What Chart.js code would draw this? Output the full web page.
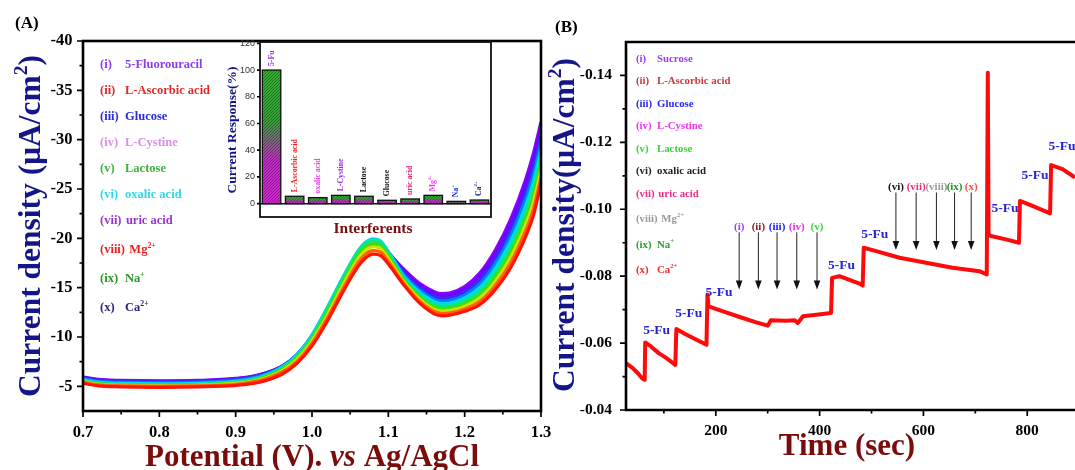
<!DOCTYPE html>
<html>
<head>
<meta charset="utf-8">
<script src="https://cdn.jsdelivr.net/npm/chart.js@4.4.1/dist/chart.umd.min.js"></script>
<style>
  html, body { margin: 0; padding: 0; background: #fff; }
  #wrap { position: relative; width: 1075px; height: 470px; overflow: hidden; }
  #wrap canvas { position: absolute; left: 0; top: 0; }
</style>
</head>
<body>
<div id="wrap">
  <canvas id="dpv" width="1075" height="470"></canvas>
  <canvas id="inset" width="1075" height="470"></canvas>
  <canvas id="amp" width="1075" height="470"></canvas>
</div>
<script>
// ---- (A) DPV curves after each interferent addition ----
var potentials = [0.70, 0.72, 0.75, 0.80, 0.85, 0.90, 0.93, 0.96, 0.98, 1.00, 1.02, 1.04, 1.06, 1.07, 1.08, 1.09, 1.10, 1.12, 1.14, 1.16, 1.17, 1.18, 1.20, 1.22, 1.24, 1.26, 1.28, 1.29, 1.30];
var dpvFu       = [-5.95, -5.7, -5.6, -5.55, -5.6, -5.8, -6.15, -7.0, -8.1, -9.9, -12.5, -15.4, -18.0, -18.9, -19.3, -19.2, -18.5, -16.9, -15.5, -14.6, -14.4, -14.45, -15.1, -16.5, -18.8, -21.9, -26.0, -28.6, -31.8];
var dpvAscorbic = [-5.9, -5.65, -5.55, -5.5, -5.55, -5.75, -6.15, -7.0, -8.15, -10.0, -12.6, -15.5, -18.1, -19.0, -19.45, -19.3, -18.55, -16.74, -15.3, -14.38, -14.18, -14.23, -14.85, -16.18, -18.4, -21.41, -25.42, -27.97, -31.18];
var dpvGlucose  = [-5.85, -5.6, -5.5, -5.45, -5.5, -5.7, -6.1, -7.0, -8.2, -10.1, -12.8, -15.8, -18.3, -19.2, -19.6, -19.45, -18.6, -16.55, -15.06, -14.11, -13.91, -13.96, -14.55, -15.8, -17.92, -20.82, -24.72, -27.21, -30.44];
var dpvCystine  = [-5.75, -5.5, -5.4, -5.35, -5.4, -5.6, -6.0, -6.95, -8.2, -10.2, -12.9, -15.9, -18.5, -19.4, -19.8, -19.6, -18.65, -16.36, -14.82, -13.84, -13.64, -13.69, -14.25, -15.41, -17.44, -20.23, -24.03, -26.46, -29.69];
var dpvLactose  = [-5.65, -5.4, -5.3, -5.25, -5.3, -5.5, -5.9, -6.9, -8.15, -10.2, -13.0, -16.0, -18.7, -19.6, -19.95, -19.7, -18.65, -16.16, -14.58, -13.57, -13.37, -13.42, -13.95, -15.03, -16.96, -19.65, -23.33, -25.7, -28.95];
var dpvOxalic   = [-5.55, -5.3, -5.2, -5.15, -5.2, -5.4, -5.8, -6.8, -8.0, -10.0, -12.8, -15.8, -18.6, -19.5, -19.8, -19.55, -18.5, -15.99, -14.36, -13.32, -13.12, -13.17, -13.68, -14.68, -16.52, -19.11, -22.69, -25.01, -28.27];
var dpvUric     = [-5.5, -5.25, -5.15, -5.1, -5.15, -5.35, -5.75, -6.7, -7.85, -9.8, -12.5, -15.5, -18.3, -19.15, -19.5, -19.25, -18.25, -15.81, -14.14, -13.07, -12.87, -12.92, -13.4, -14.32, -16.08, -18.57, -22.06, -24.32, -27.58];
var dpvMg       = [-5.45, -5.2, -5.1, -5.05, -5.1, -5.3, -5.65, -6.55, -7.7, -9.6, -12.2, -15.2, -17.9, -18.8, -19.15, -18.95, -17.95, -15.64, -13.92, -12.82, -12.62, -12.67, -13.1, -13.97, -15.64, -18.03, -21.42, -23.62, -26.9];
var dpvNa       = [-5.4, -5.15, -5.05, -5.0, -5.05, -5.2, -5.55, -6.4, -7.5, -9.35, -11.9, -14.8, -17.5, -18.4, -18.75, -18.6, -17.65, -15.46, -13.7, -12.58, -12.38, -12.43, -12.85, -13.62, -15.2, -17.49, -20.78, -22.93, -26.22];
var dpvCa       = [-5.3, -5.05, -4.95, -4.9, -4.95, -5.1, -5.4, -6.2, -7.3, -9.1, -11.6, -14.5, -17.1, -18.0, -18.4, -18.25, -17.4, -15.3, -13.5, -12.35, -12.15, -12.2, -12.6, -13.3, -14.8, -17.0, -20.2, -22.3, -25.6];
var dpvSeries = [dpvFu, dpvAscorbic, dpvGlucose, dpvCystine, dpvLactose, dpvOxalic, dpvUric, dpvMg, dpvNa, dpvCa];
var dpvColors = ['#8800ff', '#7000ff', '#3c28ff', '#0080ff', '#00d8f0', '#00e890', '#40e010', '#d0e000', '#ff6000', '#ff1400'];

var legendRoman = ['(i)', '(ii)', '(iii)', '(iv)', '(v)', '(vi)', '(vii)', '(viii)', '(ix)', '(x)'];
var legendNamesA = ['5-Fluorouracil', 'L-Ascorbic acid', 'Glucose', 'L-Cystine', 'Lactose', 'oxalic acid', 'uric acid', 'Mg^{2+}', 'Na^{+}', 'Ca^{2+}'];
var legendColorsA = ['#8c3cf0', '#e02a2a', '#2b2bdc', '#d890e8', '#3cb43c', '#2ed8e8', '#9b35d0', '#f02020', '#2a962a', '#26267e'];

// ---- inset: selectivity bars ----
var interferents = ['5-Fu', 'L-Ascorbic acid', 'oxalic acid', 'L-Cystine', 'Lactose', 'Glucose', 'uric acid', 'Mg^{2+}', 'Na^{+}', 'Ca^{2+}'];
var responsePct = [100, 5.5, 4.5, 6.2, 5.5, 2.5, 3.5, 6.2, 1.7, 2.7];
var barLabelColors = ['#9a30ee', '#ee2020', '#ee40ee', '#a030e0', '#111111', '#111111', '#e4207a', '#ee40ee', '#2030ee', '#222288'];

// ---- (B) amperometric i-t response ----
var ampTime = [27, 40, 50, 58, 63, 64, 75, 90, 105, 122, 124, 140, 160, 182, 184, 186, 214, 246, 278, 300, 306, 336, 352, 358, 368, 394, 422, 424, 438, 477, 483, 485, 509, 554, 605, 656, 708, 722, 724, 725.5, 730, 759, 784, 786, 810, 844, 846, 868, 892];
var ampCurrent = [-0.054, -0.0525, -0.051, -0.0495, -0.049, -0.0602, -0.059, -0.057, -0.0555, -0.0535, -0.0642, -0.0628, -0.0612, -0.0595, -0.0745, -0.071, -0.0695, -0.0678, -0.0662, -0.0652, -0.0668, -0.0667, -0.0668, -0.066, -0.068, -0.0685, -0.069, -0.0795, -0.080, -0.0778, -0.0772, -0.0885, -0.0875, -0.0855, -0.084, -0.0825, -0.0815, -0.0805, -0.1408, -0.0925, -0.092, -0.091, -0.090, -0.1025, -0.101, -0.0988, -0.1132, -0.112, -0.1095];

// 5-Fu addition labels (time, current where the text sits)
var fuLabelTime = [86, 148, 206, 442, 506, 757, 815, 867];
var fuLabelLevel = [-0.0637, -0.0689, -0.075, -0.0832, -0.0925, -0.1002, -0.110, -0.1188];

// interferent injection arrows
var arrowTime = [245, 282, 318, 356, 395, 547, 586, 625, 660, 692];
var arrowTop = [-0.0931, -0.0931, -0.0931, -0.0931, -0.0931, -0.105, -0.105, -0.105, -0.105, -0.105];
var arrowTip = [-0.076, -0.076, -0.076, -0.076, -0.076, -0.0878, -0.0878, -0.0878, -0.0878, -0.0878];
var arrowLabelLevel = [-0.0946, -0.0946, -0.0946, -0.0946, -0.0946, -0.1067, -0.1067, -0.1067, -0.1067, -0.1067];
var arrowColors = ['#a040f0', '#8b1e1e', '#2222ee', '#ee2aee', '#30e030', '#111111', '#ee2a8a', '#999999', '#229a22', '#f05050'];

var legendNamesB = ['Sucrose', 'L-Ascorbic acid', 'Glucose', 'L-Cystine', 'Lactose', 'oxalic acid', 'uric acid', 'Mg^{2+}', 'Na^{+}', 'Ca^{2+}'];
var legendColorsB = ['#9a3cf0', '#d03838', '#2828e8', '#ee36ee', '#36d836', '#222222', '#ee2a8a', '#9a9a9a', '#28a028', '#f22a2a'];

var SERIF = "'Liberation Serif', 'Times New Roman', serif";
var NAVY = '#15158a';
var MAROON = '#7a0c0c';

// tiny markup: ^{..} superscript, *..* italic
function richParts(s) {
  var parts = [], re = /\^\{([^}]*)\}|\*([^*]*)\*|([^^*]+)/g, m;
  while ((m = re.exec(s))) {
    if (m[1] !== undefined) parts.push({ t: m[1], sup: true });
    else if (m[2] !== undefined) parts.push({ t: m[2], it: true });
    else parts.push({ t: m[3] });
  }
  return parts;
}
function partFont(p, size) {
  return (p.it ? 'italic ' : '') + 'bold ' + (p.sup ? size * 0.62 : size) + 'px ' + SERIF;
}
function richWidth(ctx, s, size) {
  var w = 0;
  richParts(s).forEach(function (p) { ctx.font = partFont(p, size); w += ctx.measureText(p.t).width; });
  return w;
}
function drawRich(ctx, s, x, y, size, align) {
  var w = richWidth(ctx, s, size);
  var cx = align === 'center' ? x - w / 2 : (align === 'right' ? x - w : x);
  ctx.textAlign = 'left';
  richParts(s).forEach(function (p) {
    ctx.font = partFont(p, size);
    ctx.fillText(p.t, cx, p.sup ? y - size * 0.42 : y);
    cx += ctx.measureText(p.t).width;
  });
}
function drawRotated(ctx, s, x, y, size, align) {
  ctx.save();
  ctx.translate(x, y);
  ctx.rotate(-Math.PI / 2);
  drawRich(ctx, s, 0, 0, size, align);
  ctx.restore();
}

// "(i)  name" rows; the name column moves right when the numeral is wide
function drawLegendRows(ctx, names, colors, x0, nameX, y0, step, size) {
  var y = y0;
  legendRoman.forEach(function (r, i) {
    if (i > 0) y += step + (names[i].indexOf('^') >= 0 ? 3 : 0);
    ctx.fillStyle = colors[i];
    drawRich(ctx, r, x0, y, size, 'left');
    var nx = Math.max(nameX, x0 + richWidth(ctx, r, size) + size * 0.35);
    drawRich(ctx, names[i], nx, y, size, 'left');
  });
}

function tickSet(scale) {
  var major = scale.ticks.map(function (t) { return t.value; });
  var half = (major[1] - major[0]) / 2, minor = [];
  major.forEach(function (m) {
    [m - half, m + half].forEach(function (v) {
      var eps = Math.abs(half) * 1e-3;
      if (v > scale.min + eps && v < scale.max - eps &&
          minor.every(function (u) { return Math.abs(u - v) > eps; })) minor.push(v);
    });
  });
  return { major: major, minor: minor };
}

// outward tick marks on the bottom and left axes
function drawOutTicks(chart, majorLen, minorLen, doX) {
  var ctx = chart.ctx, a = chart.chartArea, sx = chart.scales.x, sy = chart.scales.y;
  ctx.save();
  ctx.strokeStyle = '#000';
  ctx.lineWidth = 1.7;
  ctx.beginPath();
  if (doX) {
    var tx = tickSet(sx);
    tx.major.forEach(function (v) { var p = sx.getPixelForValue(v); ctx.moveTo(p, a.bottom); ctx.lineTo(p, a.bottom + majorLen); });
    tx.minor.forEach(function (v) { var p = sx.getPixelForValue(v); ctx.moveTo(p, a.bottom); ctx.lineTo(p, a.bottom + minorLen); });
  }
  var ty = tickSet(sy);
  ty.major.forEach(function (v) { var p = sy.getPixelForValue(v); ctx.moveTo(a.left, p); ctx.lineTo(a.left - majorLen, p); });
  if (minorLen) ty.minor.forEach(function (v) { var p = sy.getPixelForValue(v); ctx.moveTo(a.left, p); ctx.lineTo(a.left - minorLen, p); });
  ctx.stroke();
  ctx.restore();
}

function tickFont(size) {
  return { family: SERIF, size: size, weight: 'bold' };
}

var dpvDecor = {
  id: 'dpvDecor',
  afterDraw: function (chart) {
    var ctx = chart.ctx, a = chart.chartArea;
    drawOutTicks(chart, 6, 3.5, true);
    ctx.save();
    ctx.strokeStyle = '#000';
    ctx.lineWidth = 2.6;
    ctx.strokeRect(a.left, a.top, a.right - a.left, a.bottom - a.top);
    ctx.textBaseline = 'alphabetic';

    drawLegendRows(ctx, legendNamesA, legendColorsA, 100, 125, 68, 26, 12.5);

    ctx.fillStyle = NAVY;
    drawRotated(ctx, 'Current density (\u03bcA/cm^{2})', 40, 226, 31.5, 'center');
    ctx.fillStyle = MAROON;
    drawRich(ctx, 'Potential (V). *vs* Ag/AgCl', 312, 466, 31, 'center');
    ctx.fillStyle = '#000';
    drawRich(ctx, '(A)', 15, 28, 17, 'left');
    ctx.restore();
  }
};

var dpvChart = new Chart(document.getElementById('dpv'), {
  type: 'line',
  data: {
    datasets: dpvSeries.map(function (vals, i) {
      return {
        data: potentials.map(function (p, k) { return { x: p, y: vals[k] }; }),
        borderColor: dpvColors[i],
        borderWidth: 3.2,
        pointRadius: 0,
        cubicInterpolationMode: 'monotone',
        fill: false,
        order: dpvSeries.length - i   // red drawn on top, violet underneath
      };
    })
  },
  options: {
    responsive: false,
    animation: false,
    events: [],
    layout: { padding: { left: 0, top: 41, right: 1075 - 541, bottom: 0 } },
    plugins: { legend: { display: false }, tooltip: { enabled: false } },
    scales: {
      x: {
        type: 'linear', min: 0.7, max: 1.3,
        afterFit: function (s) { s.height = 59; },
        grid: { display: false, drawTicks: false },
        border: { display: false },
        ticks: { stepSize: 0.1, padding: 12, color: '#000', font: tickFont(16.5),
          callback: function (v) { return v.toFixed(1); } }
      },
      y: {
        type: 'linear', reverse: true, min: -40, max: -2.5,
        afterFit: function (s) { s.width = 83; },
        grid: { display: false, drawTicks: false },
        border: { display: false },
        ticks: { stepSize: 5, includeBounds: false, padding: 10.5, color: '#000', font: tickFont(16.5) }
      }
    }
  },
  plugins: [dpvDecor]
});

// ---- inset bar chart ----
var hatchTile = document.createElement('canvas');
hatchTile.width = 3;
hatchTile.height = 3;
(function () {
  var g = hatchTile.getContext('2d');
  g.strokeStyle = 'rgba(25,25,25,0.5)';
  g.lineWidth = 0.8;
  g.beginPath();
  g.moveTo(0, 3); g.lineTo(3, 0);
  g.stroke();
})();

var insetDecor = {
  id: 'insetDecor',
  afterDatasetsDraw: function (chart) {
    var ctx = chart.ctx, meta = chart.getDatasetMeta(0);
    var hatch = ctx.createPattern(hatchTile, 'repeat');
    ctx.save();
    meta.data.forEach(function (bar, i) {
      var w = bar.width, x0 = bar.x - w / 2, top = Math.min(bar.y, bar.base), h = Math.abs(bar.base - bar.y);
      ctx.fillStyle = hatch;
      ctx.fillRect(x0, top, w, h);
      ctx.strokeStyle = '#111';
      ctx.lineWidth = 1.3;
      ctx.strokeRect(x0, top, w, h);
      ctx.fillStyle = barLabelColors[i];
      ctx.textBaseline = 'middle';
      drawRotated(ctx, interferents[i], bar.x, top - 4, 7.8, 'left');
    });
    ctx.restore();
  },
  afterDraw: function (chart) {
    var ctx = chart.ctx, a = chart.chartArea, sy = chart.scales.y;
    drawOutTicks(chart, 3, 0, false);
    ctx.save();
    ctx.strokeStyle = '#111';
    ctx.lineWidth = 1.5;
    var y0 = sy.getPixelForValue(0);
    ctx.beginPath();
    ctx.moveTo(a.left, y0); ctx.lineTo(a.right, y0);
    ctx.stroke();
    ctx.lineWidth = 1.8;
    ctx.strokeRect(a.left, a.top, a.right - a.left, a.bottom - a.top);
    ctx.textBaseline = 'alphabetic';
    ctx.fillStyle = NAVY;
    drawRotated(ctx, 'Current Response(%)', 236, 130, 13.5, 'center');
    ctx.fillStyle = MAROON;
    drawRich(ctx, 'Interferents', 373, 233, 15.5, 'center');
    ctx.restore();
  }
};

function barGradient(c) {
  var chart = c.chart, sy = chart.scales.y;
  if (!chart.chartArea || !sy) return '#33a833';
  var top = sy.getPixelForValue(c.raw), base = sy.getPixelForValue(0);
  if (!isFinite(top) || Math.abs(base - top) < 0.5) return '#33a833';
  var g = chart.ctx.createLinearGradient(0, top, 0, base);
  g.addColorStop(0, '#2fb02f');
  g.addColorStop(0.38, '#33a333');
  g.addColorStop(0.68, '#c02ac6');
  g.addColorStop(1, '#d621d6');
  return g;
}

var insetChart = new Chart(document.getElementById('inset'), {
  type: 'bar',
  data: {
    labels: interferents,
    datasets: [{
      data: responsePct,
      backgroundColor: barGradient,
      borderWidth: 0,
      barPercentage: 0.8,
      categoryPercentage: 1.0
    }]
  },
  options: {
    responsive: false,
    animation: false,
    events: [],
    layout: { padding: { left: 230, top: 42, right: 1075 - 491, bottom: 470 - 217 } },
    plugins: { legend: { display: false }, tooltip: { enabled: false } },
    scales: {
      x: { display: false },
      y: {
        type: 'linear', min: -10, max: 121,
        afterFit: function (s) { s.width = 30; },
        grid: { display: false, drawTicks: false },
        border: { display: false },
        ticks: { stepSize: 20, includeBounds: false, padding: 5, color: '#333',
          font: { family: "'Liberation Sans', Arial, sans-serif", size: 9 } }
      }
    }
  },
  plugins: [insetDecor]
});

// ---- (B) amperometry ----
var ampDecor = {
  id: 'ampDecor',
  afterDraw: function (chart) {
    var ctx = chart.ctx, a = chart.chartArea, sx = chart.scales.x, sy = chart.scales.y;
    drawOutTicks(chart, 6, 3.5, true);
    ctx.save();
    ctx.strokeStyle = '#000';
    ctx.lineWidth = 2.6;
    ctx.beginPath();
    ctx.moveTo(1080, a.top); ctx.lineTo(a.left, a.top);
    ctx.lineTo(a.left, a.bottom); ctx.lineTo(1080, a.bottom);
    ctx.stroke();

    ctx.textBaseline = 'alphabetic';
    drawLegendRows(ctx, legendNamesB, legendColorsB, 636, 657, 61.5, 22.5, 10.8);

    // injection arrows with their labels
    arrowTime.forEach(function (t, i) {
      var x = sx.getPixelForValue(t), y0 = sy.getPixelForValue(arrowTop[i]), y1 = sy.getPixelForValue(arrowTip[i]);
      ctx.strokeStyle = '#222';
      ctx.lineWidth = 1;
      ctx.beginPath();
      ctx.moveTo(x, y0); ctx.lineTo(x, y1 - 8);
      ctx.stroke();
      ctx.fillStyle = '#111';
      ctx.beginPath();
      ctx.moveTo(x, y1); ctx.lineTo(x - 3.3, y1 - 9); ctx.lineTo(x + 3.3, y1 - 9);
      ctx.closePath();
      ctx.fill();
      ctx.fillStyle = arrowColors[i];
      ctx.textBaseline = 'middle';
      drawRich(ctx, legendRoman[i], x, sy.getPixelForValue(arrowLabelLevel[i]), 11, 'center');
    });

    ctx.fillStyle = '#2424dc';
    ctx.textBaseline = 'middle';
    fuLabelTime.forEach(function (t, i) {
      drawRich(ctx, '5-Fu', sx.getPixelForValue(t), sy.getPixelForValue(fuLabelLevel[i]), 13.5, 'center');
    });

    ctx.textBaseline = 'alphabetic';
    ctx.fillStyle = NAVY;
    drawRotated(ctx, 'Current density(\u03bcA/cm^{2})', 574, 225, 31.5, 'center');
    ctx.fillStyle = MAROON;
    drawRich(ctx, 'Time (sec)', 847, 455, 31, 'center');
    ctx.fillStyle = '#000';
    drawRich(ctx, '(B)', 555, 32, 17, 'left');
    ctx.restore();
  }
};

var ampChart = new Chart(document.getElementById('amp'), {
  type: 'line',
  data: {
    datasets: [{
      data: ampTime.map(function (t, k) { return { x: t, y: ampCurrent[k] }; }),
      borderColor: '#ff0a0a',
      borderWidth: 4,
      borderJoinStyle: 'round',
      pointRadius: 0,
      tension: 0,
      fill: false
    }]
  },
  options: {
    responsive: false,
    animation: false,
    events: [],
    layout: { padding: { left: 540, top: 42, right: 0, bottom: 0 } },
    plugins: { legend: { display: false }, tooltip: { enabled: false } },
    scales: {
      x: {
        type: 'linear', min: 27, max: 892,
        afterFit: function (s) { s.height = 60; },
        grid: { display: false, drawTicks: false },
        border: { display: false },
        ticks: { stepSize: 200, includeBounds: false, padding: 12, color: '#000', font: tickFont(15.5) }
      },
      y: {
        type: 'linear', reverse: true, min: -0.15, max: -0.04,
        afterFit: function (s) { s.width = 86; },
        grid: { display: false, drawTicks: false },
        border: { display: false },
        ticks: { stepSize: 0.02, includeBounds: false, padding: 14, color: '#000', font: tickFont(15.5),
          callback: function (v) { return v.toFixed(2); } }
      }
    }
  },
  plugins: [ampDecor]
});
</script>
</body>
</html>
